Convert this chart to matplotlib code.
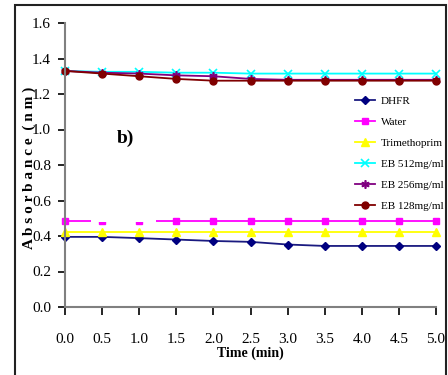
import matplotlib
matplotlib.use("Agg")
import matplotlib.pyplot as plt
from matplotlib.patches import Rectangle

time_min = [0.0, 0.5, 1.0, 1.5, 2.0, 2.5, 3.0, 3.5, 4.0, 4.5, 5.0]
dhfr = [0.395, 0.395, 0.388, 0.380, 0.372, 0.367, 0.352, 0.344, 0.344, 0.344, 0.344]
water = [0.486] * 11
trimethoprim = [0.424] * 11
eb512 = [1.330, 1.325, 1.325, 1.320, 1.320, 1.315, 1.315, 1.315, 1.315, 1.315, 1.315]
eb256 = [1.330, 1.320, 1.315, 1.305, 1.300, 1.285, 1.280, 1.280, 1.280, 1.280, 1.280]
eb128 = [1.330, 1.315, 1.300, 1.285, 1.275, 1.275, 1.275, 1.275, 1.275, 1.275, 1.275]
x_ticks = [0.0, 0.5, 1.0, 1.5, 2.0, 2.5, 3.0, 3.5, 4.0, 4.5, 5.0]
y_ticks = [0.0, 0.2, 0.4, 0.6, 0.8, 1.0, 1.2, 1.4, 1.6]

serif = "Liberation Serif"
W, H = 448, 375
fig = plt.figure(figsize=(W / 100, H / 100), dpi=100)
ax = fig.add_axes([65 / W, 1 - 307 / H, (436 - 65) / W, (307 - 23) / H])

series = [
    ("DHFR", dhfr, dict(color="#1a1a80", marker="D", mfc="#000080", mec="#000080", ms=4.5)),
    ("Water", water, dict(color="#ff00ff", marker="s", mfc="#ff00ff", mec="#ff00ff", ms=5)),
    ("Trimethoprim", trimethoprim, dict(color="#ffff00", marker="^", mfc="#ffff00", mec="#ffff00", ms=6)),
    ("EB 512mg/ml", eb512, dict(color="#00ffff", marker="x", mec="#00ffff", ms=6, mew=1.2)),
    ("EB 256mg/ml", eb256, dict(color="#800080", marker=(6, 2, 0), mec="#800080", ms=6, mew=1.2)),
    ("EB 128mg/ml", eb128, dict(color="#800000", marker="o", mfc="#800000", mec="#800000", ms=5)),
]
for label, vals, style in series:
    ax.plot(time_min, vals, label=label, lw=1.3, clip_on=False, **style)

# white label box sitting over part of the water trace
ax.add_patch(Rectangle((0.35, 0.477), 0.87, 0.06, facecolor="white",
                       edgecolor="none", zorder=5))

ax.set_xlim(0, 5.0)
ax.set_ylim(0, 1.6)
ax.set_xticks(x_ticks)
ax.set_xticklabels([f"{v:.1f}" for v in x_ticks])
ax.set_yticks(y_ticks)
ax.set_yticklabels([f"{v:.1f}" for v in y_ticks])

for s in ("top", "right"):
    ax.spines[s].set_visible(False)
for s in ("left", "bottom"):
    ax.spines[s].set_color("#808080")
    ax.spines[s].set_linewidth(1.5)

ax.tick_params(axis="x", direction="out", length=6, width=1.2, pad=13,
               labelsize=11, colors="black")
ax.tick_params(axis="y", direction="out", length=5, width=1.2, pad=5,
               labelsize=11, colors="black")
for t in ax.get_xticklabels() + ax.get_yticklabels():
    t.set_fontfamily(serif)

ax.set_xlabel("Time (min)", fontfamily=serif, fontweight="bold", fontsize=10,
              labelpad=0)
fig.text(29 / W, 1 - 168 / H, "A b s o r b a n c e  ( n m )", rotation=90,
         fontfamily=serif, fontweight="bold", fontsize=11,
         ha="center", va="center")

ax.text(0.82, 0.95, "b)", fontfamily=serif, fontweight="bold", fontsize=14,
        ha="center", va="center")

leg = ax.legend(loc="upper left", bbox_to_anchor=((355 - 65) / 371, 1 - 73 / 284),
                frameon=False, prop={"family": serif, "size": 8},
                handlelength=1.8, handletextpad=0.5, labelspacing=1.02,
                borderaxespad=0, borderpad=0)

# outer frame around the chart
fig.add_artist(Rectangle((15 / W, -0.05), (446 - 15) / W, 1 - 5 / H + 0.05,
                         transform=fig.transFigure, fill=False,
                         edgecolor="#222222", linewidth=1.5))

fig.savefig("out.png", dpi=100)
